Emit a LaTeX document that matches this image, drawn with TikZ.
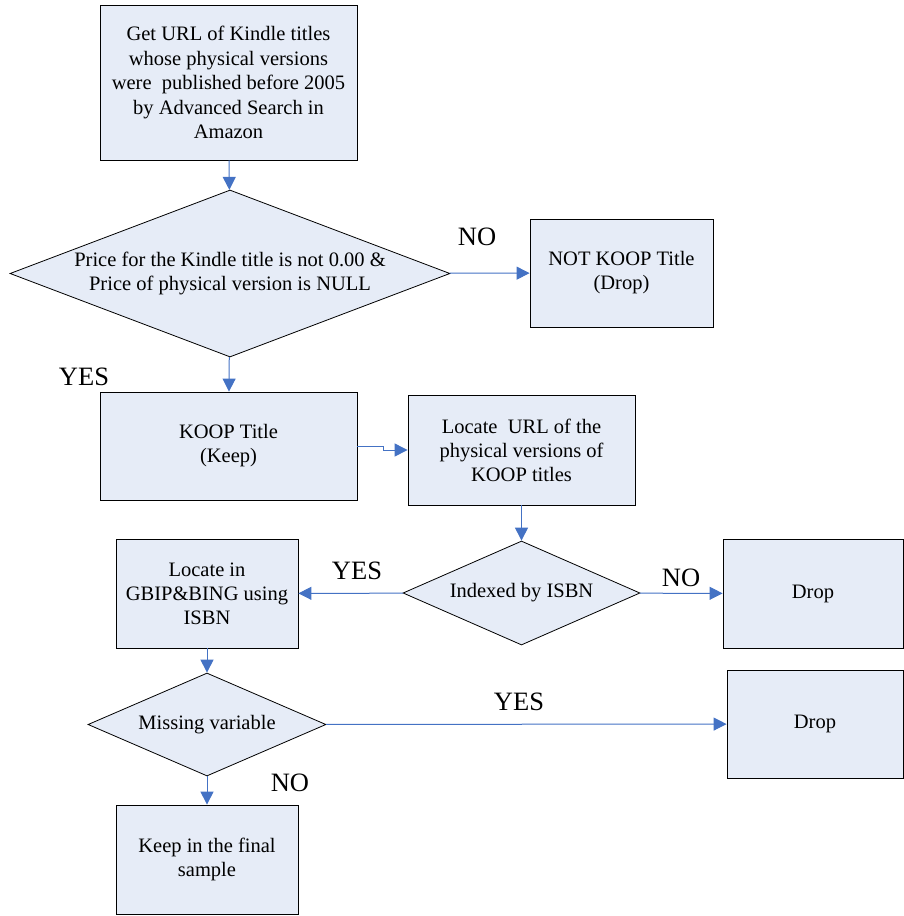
\documentclass[tikz,border=0pt]{standalone}
\usepackage{fontspec}
\setmainfont{Liberation Serif}
\usetikzlibrary{shapes.geometric,arrows.meta}

\definecolor{boxfill}{RGB}{230,236,247}
\definecolor{flowblue}{RGB}{68,114,196}

\tikzset{
  box/.style={draw=black,fill=boxfill,line width=0.8pt,align=center,inner sep=0pt,
    font=\fontsize{20.5}{24}\selectfont},
  decision/.style={diamond,draw=black,fill=boxfill,line width=0.8pt,align=center,inner sep=0pt,
    font=\fontsize{20.5}{24}\selectfont},
  flow/.style={draw=flowblue,line width=1pt,-{Triangle[length=13pt,width=13pt]}},
  lbl/.style={font=\fontsize{26.5}{30}\selectfont,inner sep=0pt}
}

\begin{document}
\begin{tikzpicture}[x=1pt,y=-1pt]
		\useasboundingbox (0,0) rectangle (903,916);
		% boxes and decisions
		\node[box,minimum width=257pt,minimum height=155pt,font=\fontsize{20.5}{24.5}\selectfont] (geturl) at (228.5,82.5)
			{Get URL of Kindle titles\\whose physical versions\\were\ \ published before 2005\\by Advanced Search in\\Amazon};
		\node[decision,aspect=2.63,minimum width=440pt,minimum height=167pt] (price) at (230,273.5)
			{Price for the Kindle title is not 0.00 \&\\Price of physical version is NULL};
		\node[box,minimum width=183pt,minimum height=108pt] (notkoop) at (621.5,273)
			{NOT KOOP Title\\(Drop)};
		\node[box,minimum width=257pt,minimum height=108pt] (koop) at (228.5,446)
			{KOOP Title\\(Keep)};
		\node[box,minimum width=227pt,minimum height=110pt] (locurl) at (521.5,450)
			{Locate\ \ URL of the\\physical versions of\\KOOP titles};
		\node[decision,aspect=2.28,minimum width=237pt,minimum height=104pt] (isbn) at (521.5,593)
			{Indexed by ISBN};
		\node[box,minimum width=180pt,minimum height=109pt] (drop1) at (813,593.5)
			{Drop};
		\node[box,minimum width=182pt,minimum height=109pt] (gbip) at (207,593.5)
			{Locate in\\GBIP\&BING using\\ISBN};
		\node[decision,aspect=2.3,minimum width=238pt,minimum height=103pt] (missing) at (207,724.5)
			{Missing variable};
		\node[box,minimum width=176pt,minimum height=108pt] (drop2) at (815,724)
			{Drop};
		\node[box,minimum width=182pt,minimum height=109pt] (keep) at (207,859.5)
			{Keep in the final\\sample};
		% connectors
		\draw[flow] (geturl) -- (price);
		\draw[flow] (price) -- (notkoop);
		\draw[flow] (price) -- (koop);
		\draw[flow] (koop.east) -- ++(26,0) |- (locurl.west);
		\draw[flow] (locurl) -- (isbn);
		\draw[flow] (isbn) -- (gbip);
		\draw[flow] (isbn) -- (drop1);
		\draw[flow] (gbip) -- (missing);
		\draw[flow] (missing) -- (drop2);
		\draw[flow] (missing) -- (keep);
		% labels
		\node[lbl] (no1) at (477,237) {NO};
		\node[lbl] (yes1) at (84,377) {YES};
		\node[lbl] (yes2) at (357,571) {YES};
		\node[lbl] (no2) at (681,578) {NO};
		\node[lbl] (yes3) at (519,702) {YES};
		\node[lbl] (no3) at (290,783) {NO};
 	 \end{tikzpicture}
\end{document}
